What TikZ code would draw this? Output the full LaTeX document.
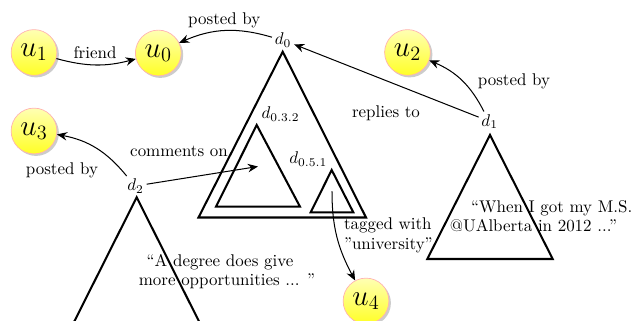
\documentclass[tikz,border=0pt]{standalone}
\usetikzlibrary{arrows.meta,shadows}
\begin{document}
\begin{tikzpicture}[x=0.59pt,y=0.59pt,
  user/.style={circle, draw=red!30, top color=yellow!30, bottom color=yellow!85,
    minimum size=27pt, inner sep=0pt, font=\LARGE,
    drop shadow={shadow xshift=1.2pt, shadow yshift=-1.2pt, opacity=0.4}},
  dlab/.style={inner sep=1.5pt},
  lbl/.style={inner sep=1pt},
  txt/.style={inner sep=0pt, anchor=base},
  tri/.style={very thick, line join=miter},
  arr/.style={semithick, -{Stealth[length=6pt,width=5pt,inset=2pt]}}]
\useasboundingbox (0,0) rectangle (634,321);
\clip (0,0) rectangle (634,321);

% trees
\draw[tri] (282.7,269.3) -- (198.5,103.5) -- (366,103.5) -- cycle;
\draw[tri] (256.7,196) -- (216,114.3) -- (300,114.3) -- cycle;
\draw[tri] (331.7,151) -- (310.7,108.7) -- (353.3,108.7) -- cycle;
\draw[tri] (490,186) -- (427.3,62) -- (552.7,62) -- cycle;
\draw[tri] (136.7,123.7) -- (72.5,-4) -- (200.8,-4) -- cycle;

\coordinate (c032) at (258,154.5);
\coordinate (c051) at (332,129.5);

% users
\node[user] (u1) at (34,268.5) {$u_1$};
\node[user] (u0) at (158.3,268) {$u_0$};
\node[user] (u3) at (34,190) {$u_3$};
\node[user] (u2) at (407.5,268.5) {$u_2$};
\node[user] (u4) at (366,20) {$u_4$};

% document labels
\node[dlab] (d0) at (283,281) {$d_0$};
\node[dlab] (d032) at (280.5,207) {$d_{0.3.2}$};
\node[dlab] (d051) at (308.3,162) {$d_{0.5.1}$};
\node[dlab] (d1) at (489.7,199.5) {$d_1$};
\node[dlab] (d2) at (135.5,135) {$d_2$};

% texts
\node[txt] (d1t1) at (551.7,108.7) {“When I got my M.S.};
\node[txt] (d1t2) at (533.5,89.2) {@UAlberta in 2012 ...”};
\node[txt] (d2t1) at (220,54.4) {“A degree does give};
\node[txt] (d2t2) at (227,35) {more opportunities ... ”};

% edge labels
\node[lbl] (lfriend) at (95,268) {friend};
\node[lbl] (lpost0) at (224.3,301) {posted by};
\node[lbl] (lreply) at (386,207.5) {replies to};
\node[lbl] (lpost2) at (514,239.3) {posted by};
\node[lbl] (lpost3) at (62,151) {posted by};
\node[lbl] (lcomm) at (179,170) {comments on};
\node[lbl, align=left, anchor=base west] (ltag) at (342,71.5) {tagged with\\"university”};

% edges
\draw[arr] (u1) to[bend right=15] (u0);
\draw[arr] (d0) to[bend right=20] (u0);
\draw[arr] (d1) -- (d0);
\draw[arr] (d1) to[bend right=20] (u2);
\draw[arr] (d2) to[bend right=20] (u3);
\draw[arr] (d2) -- (c032);
\draw[arr] (c051) to[out=-90, in=118] (u4);
\end{tikzpicture}
\end{document}
